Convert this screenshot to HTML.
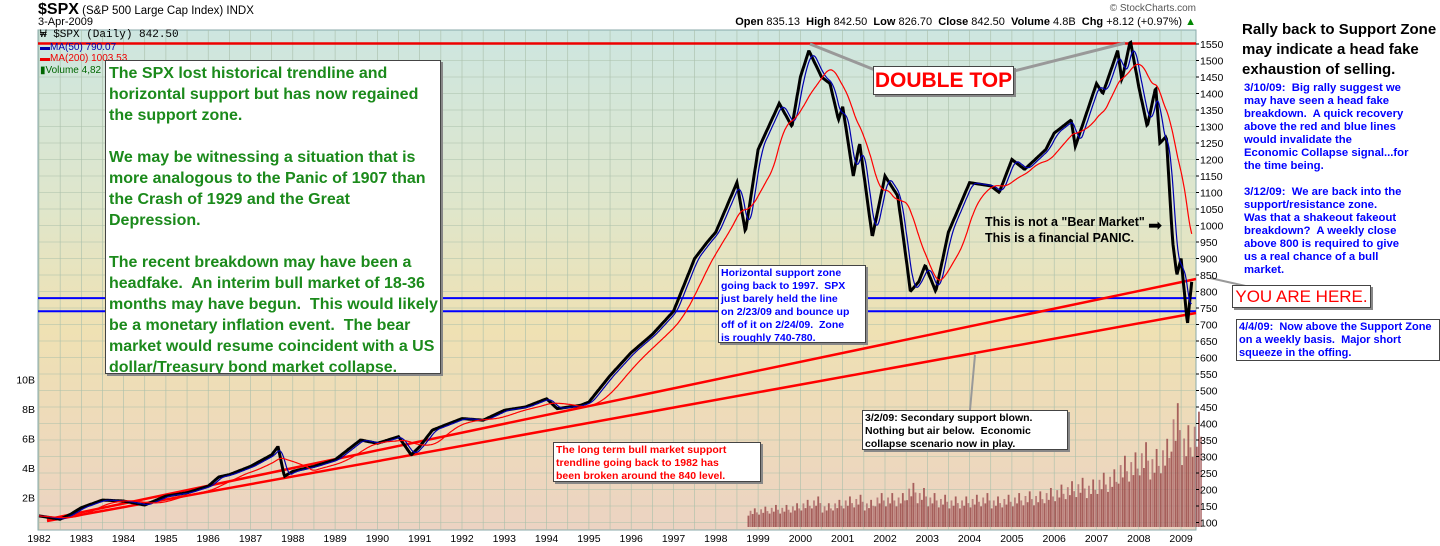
<!DOCTYPE html>
<html><head><meta charset="utf-8">
<style>
body{margin:0;width:1440px;height:546px;background:#fff;overflow:hidden;font-family:"Liberation Sans",Arial,sans-serif;position:relative}
.abs{position:absolute;white-space:nowrap}
.box{position:absolute;background:#fff;border:1px solid #444;box-shadow:2px 2px 0 #888;font-weight:bold;white-space:nowrap;overflow:hidden}
</style></head><body>
<div class="abs" style="left:38px;top:1px;font-size:11.5px"><b style="font-size:16px">$SPX</b> (S&amp;P 500 Large Cap Index) INDX</div>
<div class="abs" style="left:38px;top:16px;font-size:11px">3-Apr-2009</div>
<div class="abs" style="right:244px;top:3px;font-size:10px;color:#555">© StockCharts.com</div>
<div class="abs" style="right:244px;top:16px;font-size:11px"><b>Open</b> 835.13 &nbsp;<b>High</b> 842.50 &nbsp;<b>Low</b> 826.70 &nbsp;<b>Close</b> 842.50 &nbsp;<b>Volume</b> 4.8B &nbsp;<b>Chg</b> +8.12 (+0.97%) <span style="color:#080">▲</span></div>

<svg class="abs" style="left:0;top:0" width="1440" height="546">
<defs><linearGradient id="bg" x1="0" y1="0" x2="0" y2="1">
<stop offset="0" stop-color="#cde6e0"/><stop offset="0.35" stop-color="#dfe6cb"/><stop offset="0.6" stop-color="#efe1b3"/><stop offset="1" stop-color="#ecd3c2"/></linearGradient></defs>
<rect x="38" y="30" width="1158" height="500" fill="url(#bg)" stroke="#8aa"/>
<g id="grid"></g><g id="vol"></g><g id="ann"></g><g id="series"></g><g id="axes"></g>
</svg>

<div class="abs" style="left:40px;top:30px;font-size:10px;line-height:11.5px">
<div style="font-family:'Liberation Mono',monospace;font-size:11px">₩ $SPX (Daily) 842.50</div>
<div style="color:#00a">▬MA(50) 790.07</div><div style="color:#e00">▬MA(200) 1003.53</div><div style="color:#060">▮Volume 4,82</div></div>

<div class="box" style="left:105px;top:60px;width:336px;height:314px;color:#1b8a1b;font-size:16px;line-height:21px;padding:2px 3px;box-sizing:border-box">The SPX lost historical trendline and<br>horizontal support but has now regained<br>the support zone.<br><br>We may be witnessing a situation that is<br>more analogous to the Panic of 1907 than<br>the Crash of 1929 and the Great<br>Depression.<br><br>The recent breakdown may have been a<br>headfake.&nbsp; An interim bull market of 18-36<br>months may have begun.&nbsp; This would likely<br>be a monetary inflation event.&nbsp; The bear<br>market would resume coincident with a US<br>dollar/Treasury bond market collapse.</div>
<div class="box" style="left:873px;top:66px;width:139px;height:27px;color:#f00;font-size:21px;line-height:27px;text-align:center">DOUBLE TOP</div>
<div class="abs" style="left:985px;top:214px;font-size:12.5px;font-weight:bold;line-height:16px">This is not a "Bear Market"<br>This is a financial PANIC.</div>
<div class="abs" style="left:1148px;top:216px;font-size:17px">➡</div>
<div class="box" style="left:718px;top:265px;width:148px;height:78px;color:#00f;font-size:10.5px;line-height:13px;padding:1px 2px;box-sizing:border-box">Horizontal support zone<br>going back to 1997.&nbsp; SPX<br>just barely held the line<br>on 2/23/09 and bounce up<br>off of it on 2/24/09.&nbsp; Zone<br>is roughly 740-780.</div>
<div class="box" style="left:862px;top:410px;width:206px;height:40px;color:#000;font-size:10.5px;line-height:13px;padding:1px 2px;box-sizing:border-box">3/2/09: Secondary support blown.<br>Nothing but air below.&nbsp; Economic<br>collapse scenario now in play.</div>
<div class="box" style="left:553px;top:442px;width:208px;height:40px;color:#f00;font-size:10.5px;line-height:13px;padding:1px 2px;box-sizing:border-box">The long term bull market support<br>trendline going back to 1982 has<br>been broken around the 840 level.</div>
<div class="box" style="left:1232px;top:285px;width:137px;height:21px;color:#f00;font-size:17px;line-height:21px;text-align:center;font-weight:normal">YOU ARE HERE.</div>
<div class="abs" style="left:1242px;top:20px;font-size:15px;font-weight:bold;line-height:20px">Rally back to Support Zone<br>may indicate a head fake<br>exhaustion of selling.</div>
<div class="abs" style="left:1244px;top:82px;font-size:11.3px;font-weight:bold;line-height:13px;color:#00f">3/10/09:&nbsp; Big rally suggest we<br>may have seen a head fake<br>breakdown.&nbsp; A quick recovery<br>above the red and blue lines<br>would invalidate the<br>Economic Collapse signal...for<br>the time being.<br><br>3/12/09:&nbsp; We are back into the<br>support/resistance zone.<br>Was that a shakeout fakeout<br>breakdown?&nbsp; A weekly close<br>above 800 is required to give<br>us a real chance of a bull<br>market.</div>
<div class="abs" style="left:1236px;top:319px;width:204px;height:42px;border:1px solid #444;background:#fff;font-size:11px;font-weight:bold;line-height:13px;color:#00f;padding:1px 2px;box-sizing:border-box">4/4/09:&nbsp; Now above the Support Zone<br>on a weekly basis.&nbsp; Major short<br>squeeze in the offing.</div>

<script>
const years=[1982,1983,1984,1985,1986,1987,1988,1989,1990,1991,1992,1993,1994,1995,1996,1997,1998,1999,2000,2001,2002,2003,2004,2005,2006,2007,2008,2009];
const priceTicks=[1550,1500,1450,1400,1350,1300,1250,1200,1150,1100,1050,1000,950,900,850,800,750,700,650,600,550,500,450,400,350,300,250,200,150,100];
const volTicks=[2,4,6,8,10];
const dates=[1982.0,1982.5,1982.75,1983.0,1983.5,1984.0,1984.5,1985.0,1985.5,1986.0,1986.25,1986.5,1987.0,1987.5,1987.65,1987.8,1988.0,1988.5,1989.0,1989.6,1990.0,1990.5,1990.8,1991.0,1991.3,1992.0,1992.5,1993.0,1993.5,1994.0,1994.25,1994.8,1995.0,1995.5,1996.0,1996.5,1997.0,1997.5,1997.8,1998.0,1998.5,1998.7,1999.0,1999.5,1999.8,2000.0,2000.2,2000.5,2000.7,2000.9,2001.0,2001.25,2001.4,2001.7,2002.0,2002.3,2002.5,2002.6,2002.8,2002.95,2003.2,2003.5,2004.0,2004.5,2004.7,2005.0,2005.3,2005.8,2006.0,2006.4,2006.5,2007.0,2007.15,2007.5,2007.6,2007.8,2008.0,2008.2,2008.4,2008.5,2008.65,2008.8,2008.9,2009.0,2009.15,2009.26];
const closes=[120,110,125,145,168,165,153,180,190,210,238,245,270,305,330,240,255,270,290,350,340,360,305,330,380,415,410,440,450,475,445,455,465,545,615,670,740,900,950,980,1130,980,1230,1370,1300,1450,1530,1450,1430,1320,1360,1150,1250,965,1150,1090,900,800,830,880,800,980,1130,1120,1100,1200,1170,1230,1280,1320,1240,1430,1400,1530,1440,1560,1420,1300,1420,1250,1270,950,850,900,700,842];
const volDates=[1998.75,1999.0,1999.25,1999.5,1999.75,2000.0,2000.25,2000.5,2000.75,2001.0,2001.25,2001.5,2001.75,2002.0,2002.25,2002.5,2002.75,2003.0,2003.25,2003.5,2003.75,2004.0,2004.25,2004.5,2004.75,2005.0,2005.25,2005.5,2005.75,2006.0,2006.25,2006.5,2006.75,2007.0,2007.25,2007.5,2007.75,2008.0,2008.25,2008.5,2008.75,2009.0,2009.25];
const volumes=[1.1,1.2,1.3,1.3,1.4,1.6,1.8,1.4,1.6,1.8,1.9,1.6,2.0,2.0,2.0,2.6,2.3,2.0,1.9,1.8,1.8,1.9,2.0,1.8,1.9,2.0,2.1,2.1,2.3,2.5,2.7,2.9,2.8,3.2,3.4,4.2,4.4,5.0,4.6,5.2,7.3,6.0,6.8];

const NS="http://www.w3.org/2000/svg";
const X=t=>39+(t-1982)*42.3;
const Y=p=>44+(1550-p)*0.33;
const VY=v=>527-v*14.75;
function mk(tag,attrs,parent){const e=document.createElementNS(NS,tag);for(const k in attrs)e.setAttribute(k,attrs[k]);document.getElementById(parent).appendChild(e);return e;}

years.forEach(y=>{[0,0.5].forEach(o=>{const x=X(y+o);if(x>38&&x<1196){const l=mk('line',{x1:x,x2:x,y1:30,y2:530,stroke:'#a9bfaa','stroke-width':0.6},'grid');

}});});
priceTicks.forEach(p=>{const l=mk('line',{x1:38,x2:1196,y1:Y(p),y2:Y(p),stroke:'#a9bfaa','stroke-width':0.6},'grid');


const t=mk('text',{x:1200,y:Y(p)+4,'font-size':10.5,fill:'#000'},'axes');t.textContent=p;


const tk=mk('line',{x1:1196,x2:1199,y1:Y(p),y2:Y(p),stroke:'#000'},'axes');

});
years.forEach(y=>{const t=mk('text',{x:X(y),y:542,'font-size':10.5,'text-anchor':'middle'},'axes');t.textContent=y;

});
volTicks.forEach(v=>{const t=mk('text',{x:35,y:VY(v)+4,'font-size':10.5,'text-anchor':'end'},'axes');t.textContent=v+'B';

});

volDates.forEach((d,i)=>{const w=X(d+0.25)-X(d);const v=volumes[i];
for(let k=0;k<5;k++){const f=[0.7,1.0,0.8,1.15,0.9][k];const r=mk('rect',{x:X(d)+k*w/5,y:VY(v*f),width:w/5-0.3,height:527-VY(v*f),fill:k%3==1?'#b07070':'#9a4a4a',opacity:0.85},'vol');

}});

const wk=[];for(let t=1982;t<=2009.26;t+=1/52){let i=0;while(i<dates.length-2&&dates[i+1]<t)i++;const f=Math.min(1,(t-dates[i])/(dates[i+1]-dates[i]));wk.push([t,closes[i]+(closes[i+1]-closes[i])*f]);}
function ma(n){return wk.map((p,i)=>{const s=wk.slice(Math.max(0,i-n+1),i+1);return [p[0],s.reduce((a,b)=>a+b[1],0)/s.length];});}
const pth=a=>a.map((p,i)=>(i?'L':'M')+X(p[0]).toFixed(1)+','+Y(p[1]).toFixed(1)).join('');

const ln=(a,c,w,n)=>{const l=mk('line',Object.assign(a,{stroke:c,'stroke-width':w}),'ann');};
ln({x1:38,x2:1196,y1:43.5,y2:43.5},'#e00',2.5,'double-top-resistance-line');
ln({x1:38,x2:1196,y1:Y(780),y2:Y(780)},'#00f',2,'support-zone-upper');
ln({x1:38,x2:1196,y1:Y(740),y2:Y(740)},'#00f',2,'support-zone-lower');
ln({x1:47,x2:1196,y1:519.5,y2:279},'#f00',2.5,'long-term-trendline-upper');
ln({x1:47,x2:1196,y1:521,y2:313},'#f00',2.5,'long-term-trendline-lower');
ln({x1:810,x2:880,y1:44,y2:72},'#999',3,'double-top-pointer-1');
ln({x1:1125,x2:1010,y1:43,y2:72},'#999',3,'double-top-pointer-2');
ln({x1:975,x2:970,y1:355,y2:410},'#999',2,'secondary-support-pointer');
ln({x1:1210,x2:1250,y1:278,y2:287},'#999',2,'you-are-here-pointer');

const p=mk('path',{d:pth(wk),fill:'none',stroke:'#000','stroke-width':3},'series');


const m50=mk('path',{d:pth(ma(10)),fill:'none',stroke:'#0000b0','stroke-width':1.2},'series');


const m200=mk('path',{d:pth(ma(40)),fill:'none',stroke:'#f00','stroke-width':1.2},'series');


</script>
</body></html>
